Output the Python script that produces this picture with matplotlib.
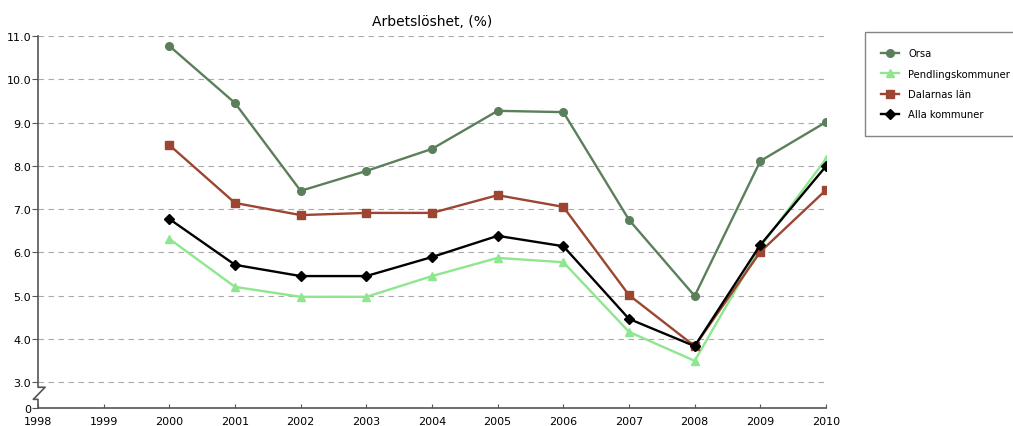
import matplotlib.pyplot as plt

years = [2000, 2001, 2002, 2003, 2004, 2005, 2006, 2007, 2008, 2009, 2010]
orsa = [10.77, 9.45, 7.42, 7.88, 8.39, 9.27, 9.24, 6.75, 4.99, 8.11, 9.01]
pendling = [6.31, 5.20, 4.97, 4.97, 5.45, 5.87, 5.77, 4.16, 3.49, 6.12, 8.16]
dalarna = [8.48, 7.14, 6.86, 6.91, 6.91, 7.32, 7.05, 5.01, 3.83, 6.01, 7.44]
alla = [6.77, 5.71, 5.45, 5.45, 5.89, 6.38, 6.14, 4.46, 3.83, 6.17, 7.99]

x_ticks = list(range(1998, 2011))
y_ticks = [3.0, 4.0, 5.0, 6.0, 7.0, 8.0, 9.0, 10.0, 11.0]
y_bottom = 2.4  # shown as "0" below the axis break


def main():
    plt.rcParams['font.family'] = 'DejaVu Sans'
    fig = plt.figure(figsize=(10.13, 4.27), dpi=100)
    ax = fig.add_axes([38 / 1013, 18 / 427, 788 / 1013, 372 / 427])

    ax.plot(years, orsa, color='#5b7f5b', lw=1.7, marker='o', ms=5.5, label='Orsa', zorder=3)
    ax.plot(years, pendling, color='#8ee68e', lw=1.7, marker='^', ms=5.5, label='Pendlingskommuner', zorder=3)
    ax.plot(years, dalarna, color='#9c4530', lw=1.7, marker='s', ms=5.5, label='Dalarnas län', zorder=3)
    ax.plot(years, alla, color='black', lw=1.7, marker='D', ms=5.5, label='Alla kommuner', zorder=4)

    ax.set_xlim(1998, 2010)
    ax.set_ylim(y_bottom, 11.0)
    ax.set_xticks(x_ticks)
    ax.set_xticklabels([str(y) for y in x_ticks], fontsize=8)
    ax.set_yticks([y_bottom] + y_ticks)
    ax.set_yticklabels(['0'] + ['%.1f' % v for v in y_ticks], fontsize=8)
    ax.tick_params(axis='x', direction='in', length=3, color='#555555', pad=6)
    ax.tick_params(axis='y', direction='out', length=4, color='#555555', pad=1)

    for v in y_ticks:
        ax.axhline(v, color='#aaaaaa', lw=0.8, ls=(0, (5, 4)), zorder=1)

    for s in ['top', 'right', 'left']:
        ax.spines[s].set_visible(False)
    ax.spines['bottom'].set_color('#555555')
    ax.spines['bottom'].set_linewidth(1.2)

    # left axis with a break between 0 and 3.0
    tr = ax.get_yaxis_transform()
    ax.plot([0, 0, 0.009, -0.006, 0, 0],
            [11.0, 2.88, 2.88, 2.6, 2.6, y_bottom],
            transform=tr, color='#555555', lw=1.2, clip_on=False, zorder=5)

    ax.set_title('Arbetslöshet, (%)', fontsize=10, pad=8)

    leg = fig.legend(loc='upper left', bbox_to_anchor=(865 / 1013, 1 - 33 / 427),
                     fontsize=7.2, frameon=True, fancybox=False, borderpad=1.6,
                     labelspacing=1.05, handlelength=1.8, handletextpad=0.9,
                     borderaxespad=0)
    leg.get_frame().set_edgecolor('#666666')
    leg.get_frame().set_linewidth(1.0)

    fig.savefig('out.png', dpi=100)


if __name__ == "__main__":
    main()
